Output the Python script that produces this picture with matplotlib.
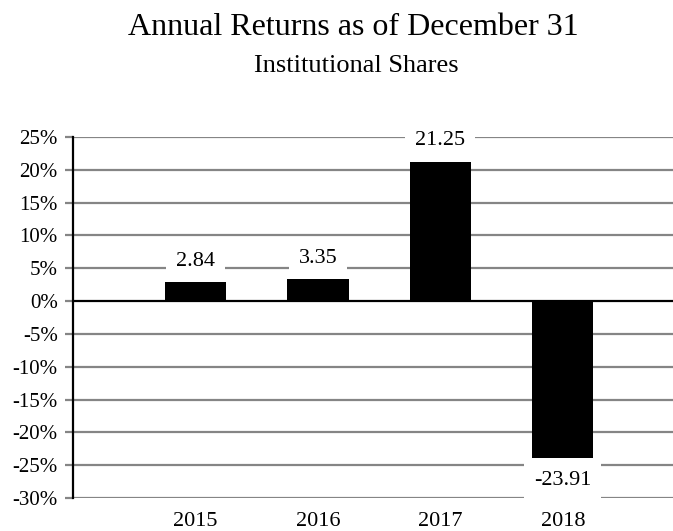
import matplotlib.pyplot as plt

years = ["2015", "2016", "2017", "2018"]
returns = [2.84, 3.35, 21.25, -23.91]
yticks = [25, 20, 15, 10, 5, 0, -5, -10, -15, -20, -25, -30]

plt.rcParams['font.family'] = ['Liberation Serif', 'DejaVu Serif']

fig = plt.figure(figsize=(6.73, 5.31), dpi=100)
ax = fig.add_axes([73/673, 1-498/531, 600/673, 361/531])

x = list(range(len(years)))
ax.bar(x, returns, width=0.5, color='black', zorder=3)

ax.set_ylim(-30, 25)
ax.set_xlim(-1, 3.9)
ax.set_yticks(yticks)
ax.set_yticklabels([f"{v}%" for v in yticks], fontsize=15)
ax.set_xticks(x)
ax.set_xticklabels(years, fontsize=16)

for t in yticks:
    if t != 0:
        ax.axhline(t, color='#858585', lw=1.6, zorder=1)
ax.axhline(0, color='black', lw=1.6, zorder=4)

ax.tick_params(axis='y', length=6, width=1.6, color='#858585', pad=5)
ax.tick_params(axis='x', length=0, pad=10)
for s in ['top', 'right', 'bottom']:
    ax.spines[s].set_visible(False)
ax.spines['left'].set_linewidth(1.6)
ax.spines['left'].set_zorder(5)

for xi, v in zip(x, returns):
    off = 15 if v >= 0 else -16.5
    ax.annotate(f"{v:.2f}", (xi, v), xytext=(0, off), textcoords='offset points',
                ha='center', va='center', fontsize=16, zorder=6,
                bbox=dict(boxstyle='square,pad=0.45', fc='white', ec='none'))

fig.text(0.525, 1-35/531, "Annual Returns as of December 31", ha='center', va='baseline', fontsize=23)
fig.text(0.529, 1-72/531, "Institutional Shares", ha='center', va='baseline', fontsize=19)

fig.savefig("out.png", dpi=100)
